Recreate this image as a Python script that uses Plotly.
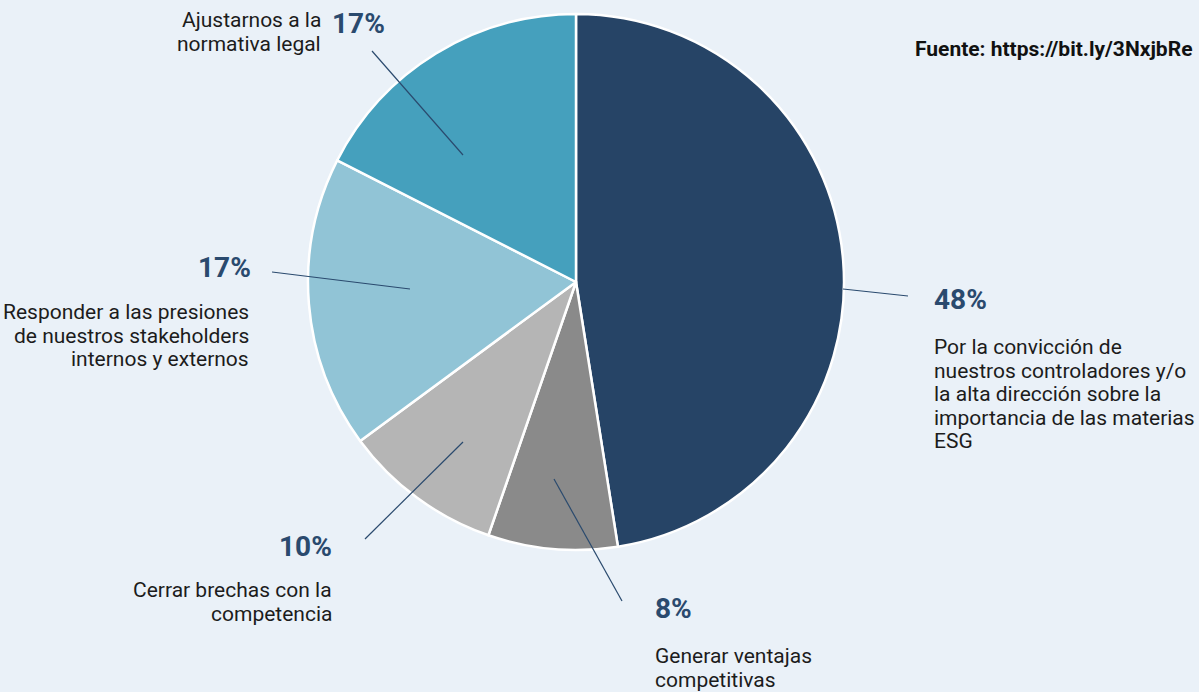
import plotly.graph_objects as go

W, H = 1199, 692

categories = [
    "Por la convicción de<br>nuestros controladores y/o<br>la alta dirección sobre la<br>importancia de las materias<br>ESG",
    "Generar ventajas<br>competitivas",
    "Cerrar brechas con la<br>competencia",
    "Responder a las presiones<br>de nuestros stakeholders<br>internos y externos",
    "Ajustarnos a la<br>normativa legal",
]
values = [47.5, 7.8, 9.6, 17.6, 17.5]
pct_labels = ["48%", "8%", "10%", "17%", "17%"]
colors = ["#264466", "#8a8a8a", "#b5b5b5", "#91c4d6", "#45a0bd"]
source_text = "Fuente: https://bit.ly/3NxjbRe"

BG = "#eaf1f8"
NAVY = "#2a4a6e"
TXT = "#1c1c1c"
FONT = "Roboto"


def px(x):
    return x / W


def py(y):
    return 1 - y / H


cx, cy, r = 576, 282, 268

fig = go.Figure(go.Pie(
    labels=[c.replace("<br>", " ") for c in categories],
    values=values,
    sort=False,
    direction="clockwise",
    rotation=0,
    marker=dict(colors=colors, line=dict(color="white", width=2.5)),
    textinfo="none",
    hoverinfo="label",
    domain=dict(x=[px(cx - r), px(cx + r)], y=[py(cy + r), py(cy - r)]),
    showlegend=False,
))

# (pct x, pct y, pct anchor, label x, first line y, label anchor)
placements = [
    (932, 300, "left", 932, 347, "left"),
    (653, 608, "left", 653, 656, "left"),
    (334, 546, "right", 334, 590, "right"),
    (253, 267, "right", 251, 312, "right"),
    (387, 23, "right", 323, 20, "right"),
]
LINE_GAP = 23.6
# leader lines (from slice to label)
leaders = [
    (843, 289, 908, 296),
    (554, 479, 622, 601),
    (463, 442, 365, 539),
    (410, 289, 272, 272),
    (463, 155, 372, 51),
]

annotations = []
shapes = []
for i, cat in enumerate(categories):
    pxx, pyy, pa, lx, ly, la = placements[i]
    annotations.append(dict(
        x=px(pxx), y=py(pyy), xref="paper", yref="paper",
        xanchor=pa, yanchor="middle", showarrow=False,
        text="<b>" + pct_labels[i] + "</b>",
        font=dict(family=FONT, size=28, color=NAVY),
    ))
    for k, line in enumerate(cat.split("<br>")):
        annotations.append(dict(
            x=px(lx), y=py(ly + k * LINE_GAP), xref="paper", yref="paper",
            xanchor=la, yanchor="middle", showarrow=False,
            text=line,
            font=dict(family=FONT, size=21, color=TXT),
        ))
    x0, y0, x1, y1 = leaders[i]
    shapes.append(dict(
        type="line", xref="paper", yref="paper",
        x0=px(x0), y0=py(y0), x1=px(x1), y1=py(y1),
        line=dict(color=NAVY, width=1.2),
    ))

annotations.append(dict(
    x=px(913), y=py(49), xref="paper", yref="paper",
    xanchor="left", yanchor="middle", showarrow=False,
    text="<b>" + source_text + "</b>",
    font=dict(family=FONT, size=21, color="#111111"),
))

fig.update_layout(
    width=W, height=H,
    margin=dict(l=0, r=0, t=0, b=0),
    paper_bgcolor=BG, plot_bgcolor=BG,
    annotations=annotations,
    shapes=shapes,
)

fig.write_html(
    "out.html",
    config={"displayModeBar": False},
    post_script="document.body.style.margin='0';document.body.style.background='" + BG + "';",
)
